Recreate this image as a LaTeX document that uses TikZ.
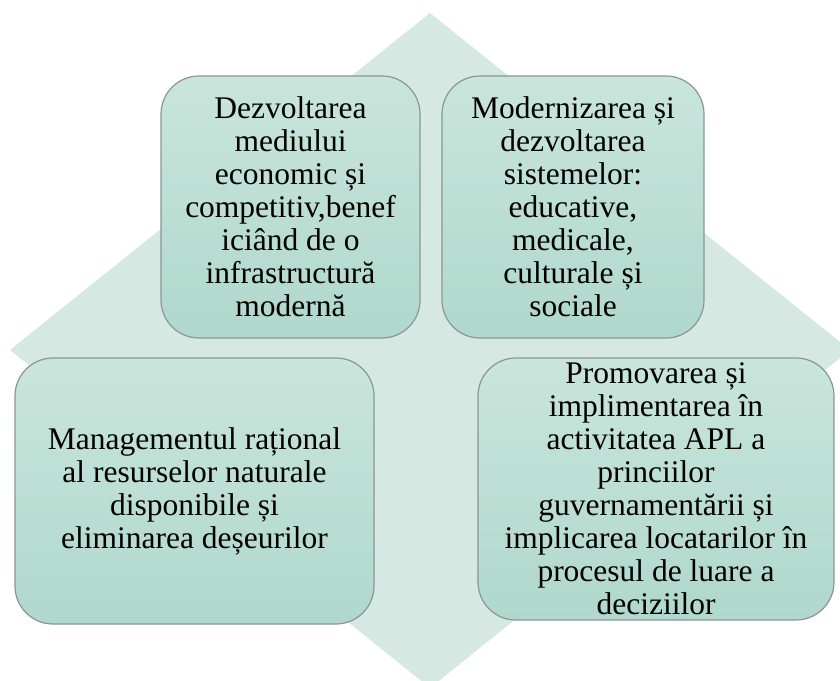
\documentclass[tikz,border=0pt]{standalone}
\usepackage{fontspec}
\setmainfont{Liberation Serif}
\definecolor{RhombClr}{HTML}{D5E8E2}
\definecolor{BoxTopClr}{HTML}{C9E5DC}
\definecolor{BoxBotClr}{HTML}{B0D8CC}
\definecolor{BoxLineClr}{HTML}{8A9794}

\begin{document}
\begin{tikzpicture}[x=1pt,y=-1pt,
  goalbox/.style={draw=BoxLineClr,line width=1.2pt,rounded corners=38pt,
    top color=BoxTopClr,bottom color=BoxBotClr,align=center,inner sep=0pt,
    font=\fontsize{31.5}{33}\selectfont}]
\useasboundingbox (0,0) rectangle (840,680);
\clip (0,0) rectangle (840,680);

% background rhomb
\fill[RhombClr] (430,13) -- (850,350) -- (430,688) -- (10,350) -- cycle;

\node[goalbox,minimum width=259pt,minimum height=262pt] (econ) at (290.5,207)
  {Dezvoltarea\\mediului\\economic și\\competitiv,benef\\iciând de o\\infrastructură\\modernă};
\node[goalbox,minimum width=262pt,minimum height=262pt] (social) at (573,207)
  {Modernizarea și\\dezvoltarea\\sistemelor:\\educative,\\medicale,\\culturale și\\sociale};
\node[goalbox,minimum width=359pt,minimum height=266pt] (resurse) at (194.5,491)
  {Managementul rațional\\al resurselor naturale\\disponibile și\\eliminarea deșeurilor};
\node[goalbox,minimum width=356pt,minimum height=262pt] (guvern) at (656,489)
  {Promovarea și\\implimentarea în\\activitatea APL a\\princiilor\\guvernamentării și\\implicarea locatarilor în\\procesul de luare a\\deciziilor};

\end{tikzpicture}
\end{document}
